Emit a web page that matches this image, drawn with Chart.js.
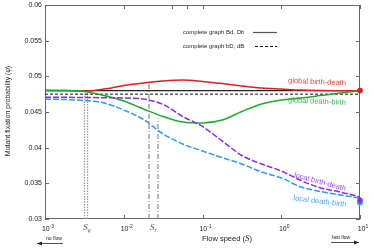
<!DOCTYPE html>
<html>
<head>
<meta charset="utf-8">
<script src="https://cdn.jsdelivr.net/npm/chart.js@4.4.0/dist/chart.umd.min.js"></script>
<style>
  html, body { margin: 0; padding: 0; background: #fff; }
  #wrap { width: 374px; height: 250px; }
</style>
</head>
<body>
<div id="wrap"><canvas id="myChart" width="374" height="250"></canvas></div>
<script>
'use strict';

// flow speed S (log scale), samples every quarter decade
let speeds = [0.001, 0.00178, 0.00316, 0.00562, 0.01, 0.0178, 0.0316, 0.0562, 0.1, 0.178, 0.316, 0.562, 1, 1.78, 3.16, 5.62, 10];
let globalBirthDeath = [0.04804, 0.04801, 0.04794, 0.04822, 0.04871, 0.04907, 0.04935, 0.04949, 0.04928, 0.04899, 0.04864, 0.04836, 0.04822, 0.04808, 0.04801, 0.04797, 0.04797];
let globalDeathBirth = [0.04801, 0.048, 0.04787, 0.04731, 0.04654, 0.04542, 0.04437, 0.0436, 0.04346, 0.04388, 0.04507, 0.04612, 0.04668, 0.04696, 0.04731, 0.04766, 0.04797];
let localBirthDeath = [0.04706, 0.04706, 0.04703, 0.047, 0.04696, 0.04682, 0.04605, 0.04437, 0.04297, 0.04093, 0.0389, 0.03771, 0.03673, 0.0354, 0.03435, 0.03378, 0.03308];
let localDeathBirth = [0.04682, 0.04675, 0.04661, 0.04626, 0.04528, 0.04395, 0.04192, 0.04051, 0.03953, 0.0386, 0.03771, 0.03659, 0.03575, 0.03449, 0.03385, 0.03336, 0.03294];

// complete graph reference values
let completeBdDb = 0.048;
let completebDdB = 0.0475;

// limit values drawn as dots at S = 10
let limitSpeed = 10;
let limitValues = [0.048, 0.03231, 0.03266];

// critical speeds: S_q (two dotted lines) and S_r (two dash-dot lines)
let sqSpeeds = [0.00318, 0.00347];
let sqTops = [0.048, 0.048];
let srSpeeds = [0.0209, 0.0272];
let srTops = [0.04907, 0.04416];

let yTicks = [0.03, 0.035, 0.04, 0.045, 0.05, 0.055, 0.06];
let yTickLabels = ['0.03', '0.035', '0.04', '0.045', '0.05', '0.055', '0.06'];
let xTicks = [0.001, 0.01, 0.1, 1, 10];
let xTickExps = ['-3', '-2', '-1', '0', '1'];
let xTopExtra = [0.041, 0.0636];

let RED = '#dc1f1f';
let GREEN = '#1fa82e';
let PURPLE = '#8b2be6';
let BLUE = '#2f98ee';
let SANS = '"Liberation Sans", Arial, sans-serif';
let SERIF = '"Liberation Serif", "DejaVu Serif", serif';

function pts(values) {
    let out = [];
    for (let i = 0; i < speeds.length; i++) {
        out.push({ x: speeds[i], y: values[i] });
    }
    return out;
}

function vline(s, top) {
    return [{ x: s, y: 0.03 }, { x: s, y: top }];
}

function curve(values, color, dash) {
    return {
        data: pts(values),
        borderColor: color,
        borderWidth: 1.5,
        borderDash: dash || [],
        pointRadius: 0,
        fill: false,
        cubicInterpolationMode: 'monotone',
        order: 1
    };
}

let datasets = [];
for (let i = 0; i < sqSpeeds.length; i++) {
    datasets.push({ data: vline(sqSpeeds[i], sqTops[i]), borderColor: '#999', borderWidth: 1.3, borderDash: [1.5, 1.2], pointRadius: 0, order: 5 });
}
for (let i = 0; i < srSpeeds.length; i++) {
    datasets.push({ data: vline(srSpeeds[i], srTops[i]), borderColor: '#8a8a8a', borderWidth: 1.2, borderDash: [5, 2, 1, 2], pointRadius: 0, order: 5 });
}
datasets.push({ data: [{ x: 0.001, y: completeBdDb }, { x: 10, y: completeBdDb }], borderColor: '#222', borderWidth: 1.1, pointRadius: 0, order: 4 });
datasets.push({ data: [{ x: 0.001, y: completebDdB }, { x: 10, y: completebDdB }], borderColor: '#111', borderWidth: 1, borderDash: [3, 2], pointRadius: 0, order: 4 });
datasets.push(curve(localDeathBirth, BLUE, [6, 2]));
datasets.push(curve(localBirthDeath, PURPLE, [6, 2]));
datasets.push(curve(globalDeathBirth, GREEN));
datasets.push(curve(globalBirthDeath, RED));
datasets.push({
    type: 'scatter',
    data: limitValues.map(v => ({ x: limitSpeed, y: v })),
    pointBackgroundColor: [RED, BLUE, PURPLE],
    pointBorderColor: [RED, BLUE, PURPLE],
    pointRadius: [2.5, 2.6, 2.3],
    clip: false,
    order: 0
});

function drawParts(ctx, parts, x, y, align) {
    let total = 0;
    for (let p of parts) {
        ctx.font = p.f;
        total += ctx.measureText(p.t).width;
    }
    let cx = align === 'right' ? x - total : (align === 'left' ? x : x - total / 2);
    ctx.textAlign = 'left';
    for (let p of parts) {
        ctx.font = p.f;
        ctx.fillText(p.t, cx, y + (p.dy || 0));
        cx += ctx.measureText(p.t).width;
    }
}

function arrow(ctx, x1, x2, y, headLeft) {
    ctx.beginPath();
    ctx.moveTo(x1, y);
    ctx.lineTo(x2, y);
    ctx.stroke();
    let hx = headLeft ? x1 : x2;
    let d = headLeft ? 1 : -1;
    ctx.beginPath();
    ctx.moveTo(hx, y);
    ctx.lineTo(hx + 5 * d, y - 2);
    ctx.lineTo(hx + 5 * d, y + 2);
    ctx.closePath();
    ctx.fill();
}

let frame = {
    id: 'frame',
    beforeDatasetsDraw(chart) {
        let ctx = chart.ctx;
        let a = chart.chartArea;
        let x = chart.scales.x;
        let y = chart.scales.y;
        ctx.save();
        ctx.strokeStyle = '#666';
        ctx.lineWidth = 1;
        ctx.strokeRect(a.left + 0.5, a.top + 0.5, a.right - a.left - 1, a.bottom - a.top - 1);
        ctx.beginPath();
        for (let v of yTicks) {
            let py = Math.round(y.getPixelForValue(v)) + 0.5;
            ctx.moveTo(a.left, py); ctx.lineTo(a.left + 4, py);
            ctx.moveTo(a.right, py); ctx.lineTo(a.right - 4, py);
        }
        for (let v of xTicks) {
            let px = Math.round(x.getPixelForValue(v)) + 0.5;
            ctx.moveTo(px, a.bottom); ctx.lineTo(px, a.bottom - 4);
            ctx.moveTo(px, a.top); ctx.lineTo(px, a.top + 4);
        }
        for (let v of xTopExtra) {
            let px = Math.round(x.getPixelForValue(v)) + 0.5;
            ctx.moveTo(px, a.top); ctx.lineTo(px, a.top + 4);
        }
        ctx.stroke();
        ctx.restore();
    },
    afterDraw(chart) {
        let ctx = chart.ctx;
        let a = chart.chartArea;
        let x = chart.scales.x;
        let y = chart.scales.y;
        ctx.save();
        ctx.fillStyle = '#222';
        ctx.textBaseline = 'middle';

        // y tick labels
        ctx.font = '7px ' + SANS;
        ctx.textAlign = 'right';
        for (let i = 0; i < yTicks.length; i++) {
            ctx.fillText(yTickLabels[i], a.left - 3, y.getPixelForValue(yTicks[i]));
        }

        // x tick labels 10^n
        for (let i = 0; i < xTicks.length; i++) {
            let px = x.getPixelForValue(xTicks[i]) + 3;
            drawParts(ctx, [
                { t: '10', f: '7px ' + SANS },
                { t: xTickExps[i], f: '5px ' + SANS, dy: -2.5 }
            ], px, 229, 'center');
        }

        // S_q and S_r labels
        ctx.fillStyle = '#555';
        let sq = (x.getPixelForValue(sqSpeeds[0]) + x.getPixelForValue(sqSpeeds[1])) / 2;
        let sr = (x.getPixelForValue(srSpeeds[0]) + x.getPixelForValue(srSpeeds[1])) / 2;
        drawParts(ctx, [{ t: 'S', f: 'italic 9px ' + SERIF }, { t: 'q', f: 'italic 6px ' + SERIF, dy: 2 }], sq + 1, 228, 'center');
        drawParts(ctx, [{ t: 'S', f: 'italic 9px ' + SERIF }, { t: 'r', f: 'italic 6px ' + SERIF, dy: 2 }], sr, 228, 'center');

        // axis titles
        ctx.fillStyle = '#222';
        drawParts(ctx, [
            { t: 'Flow speed (', f: '7.5px ' + SANS },
            { t: 'S', f: 'italic 9px ' + SERIF },
            { t: ')', f: '7.5px ' + SANS }
        ], 227, 238.5, 'center');

        ctx.save();
        ctx.translate(8, 111);
        ctx.rotate(-Math.PI / 2);
        drawParts(ctx, [
            { t: 'Mutant fixation probability (', f: '7px ' + SANS },
            { t: '\u03C6', f: 'italic 8px ' + SERIF },
            { t: ')', f: '7px ' + SANS }
        ], 0, 0, 'center');
        ctx.restore();

        // no flow / fast flow
        ctx.font = '5px ' + SANS;
        ctx.textAlign = 'center';
        ctx.fillText('no flow', 54, 239);
        ctx.fillText('fast flow', 341, 238);
        ctx.strokeStyle = '#222';
        ctx.lineWidth = 0.8;
        arrow(ctx, 37, 63, 243.5, true);
        arrow(ctx, 331, 359, 242.5, false);

        // legend
        ctx.font = '6px ' + SANS;
        ctx.textAlign = 'left';
        ctx.fillText('complete graph Bd, Db', 183, 32);
        ctx.fillText('complete graph bD, dB', 183, 46);
        ctx.strokeStyle = '#555';
        ctx.lineWidth = 1.2;
        ctx.beginPath(); ctx.moveTo(253, 32.5); ctx.lineTo(277, 32.5); ctx.stroke();
        ctx.strokeStyle = '#111';
        ctx.lineWidth = 1;
        ctx.setLineDash([3, 2]);
        ctx.beginPath(); ctx.moveTo(255, 46.5); ctx.lineTo(277, 46.5); ctx.stroke();
        ctx.setLineDash([]);

        // curve labels
        let labels = [
            ['global birth-death', RED, 317, 82, 2.5],
            ['global death-birth', GREEN, 317, 101.5, 2.5],
            ['local birth-death', PURPLE, 320, 182, 15],
            ['local death-birth', BLUE, 320, 201.5, 7]
        ];
        ctx.font = '7.5px ' + SANS;
        ctx.textAlign = 'center';
        for (let l of labels) {
            ctx.save();
            ctx.translate(l[2], l[3]);
            ctx.rotate(l[4] * Math.PI / 180);
            ctx.fillStyle = l[1];
            ctx.globalAlpha = 0.85;
            ctx.fillText(l[0], 0, 0);
            ctx.restore();
        }
        ctx.restore();
    }
};

let ctx = document.getElementById('myChart').getContext('2d');
let myChart = new Chart(ctx, {
    type: 'line',
    data: { datasets: datasets },
    options: {
        responsive: false,
        animation: false,
        devicePixelRatio: 1,
        layout: { padding: { left: 45, right: 14, top: 5, bottom: 31 } },
        plugins: { legend: { display: false }, tooltip: { enabled: false } },
        scales: {
            x: { type: 'logarithmic', min: 0.001, max: 10, display: false },
            y: { type: 'linear', min: 0.03, max: 0.06, display: false }
        }
    },
    plugins: [frame]
});
</script>
</body>
</html>
